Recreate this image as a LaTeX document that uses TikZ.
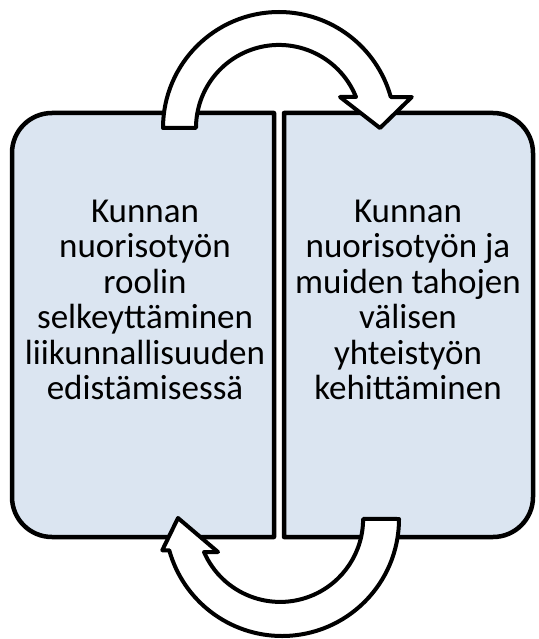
\documentclass[tikz,border=0pt]{standalone}
\usepackage{fontspec}
\setmainfont{Carlito}
\definecolor{boxfill}{HTML}{DBE5F1}
\begin{document}
\begin{tikzpicture}[x=1pt,y=1pt,
  boxline/.style={draw=black, line width=4.5pt, fill=boxfill, line join=round},
  bigarrow/.style={draw=black, line width=4pt, fill=white, line join=round},
  boxtext/.style={align=center, text=black, font=\fontsize{35}{35.5}\selectfont}]
\useasboundingbox (0,0) rectangle (538,-639);
\coordinate (topc) at (279,-128);
\coordinate (botc) at (282,-519);
% boxes
\draw[boxline] (274,-113) -- (52,-113) arc[start angle=90, end angle=180, radius=40]
  -- (12,-497) arc[start angle=180, end angle=270, radius=40] -- (274,-537) -- cycle;
\draw[boxline] (284,-113) -- (493,-113) arc[start angle=90, end angle=0, radius=40]
  -- (533,-497) arc[start angle=0, end angle=-90, radius=40] -- (284,-537) -- cycle;
% curved arrows
\draw[bigarrow] ([xshift=-116pt]topc) arc[start angle=180, end angle=15.5, radius=116]
  -- ++(21,0) -- (380,-128) -- (340,-97) -- ++(16,0)
  arc[start angle=21.9, end angle=180, radius=83] -- cycle;
\draw[bigarrow] ([xshift=117pt]botc) arc[start angle=0, end angle=-164.5, radius=117]
  -- ++(-7,0) -- (178,-518) -- (218,-552) -- ++(-14,0)
  arc[start angle=-156.5, end angle=0, radius=83] -- cycle;
\node[boxtext] (roolin) at (145,-300) {Kunnan\\nuorisotyön\\roolin\\selkeyttäminen\\liikunnallisuuden\\edistämisessä};
\node[boxtext] (yhteistyo) at (408,-300) {Kunnan\\nuorisotyön ja\\muiden tahojen\\välisen\\yhteistyön\\kehittäminen};
\end{tikzpicture}
\end{document}
